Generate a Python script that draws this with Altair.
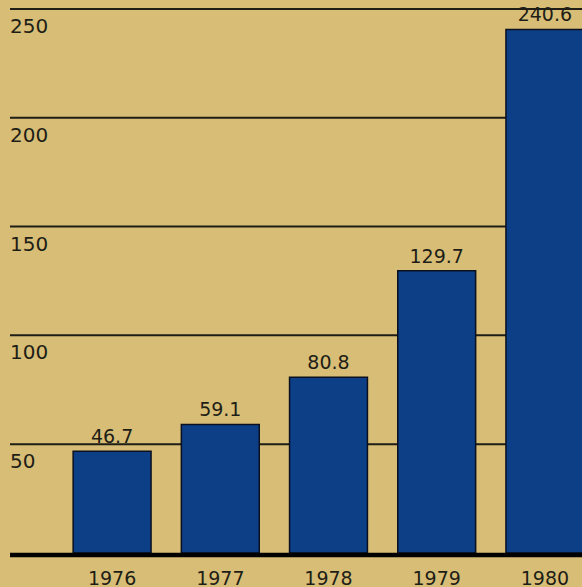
import altair as alt
import pandas as pd

# Annual values, 1976-1980
years = ["1976", "1977", "1978", "1979", "1980"]
values = [46.7, 59.1, 80.8, 129.7, 240.6]
value_labels = ["46.7", "59.1", "80.8", "129.7", "240.6"]

# Horizontal reference lines and their labels
grid_values = [50, 100, 150, 200, 250]
grid_labels = ["50", "100", "150", "200", "250"]

BG = "#d7bd76"
BAR = "#0c3f86"
INK = "#1e1e16"
FONT = "DejaVu Sans"

bars_df = pd.DataFrame({"year": years, "value": values, "label": value_labels})
grid_df = pd.DataFrame({"v": grid_values, "label": grid_labels})
base_df = pd.DataFrame({"v": [0]})

yscale = alt.Scale(domain=[0, 254.1], nice=False, zero=True)
xscale = alt.Scale(range=[58, 599], paddingInner=0.28, paddingOuter=0.14)

grid = alt.Chart(grid_df).mark_rule(color=INK, strokeWidth=2).encode(
    y=alt.Y("v:Q", scale=yscale, axis=None),
    x=alt.value(10),
    x2=alt.value(582),
)

grid_text = alt.Chart(grid_df).mark_text(
    align="left", baseline="alphabetic", dy=24, fontSize=20, font=FONT, color=INK
).encode(
    y=alt.Y("v:Q", scale=yscale, axis=None),
    x=alt.value(10),
    text="label:N",
)

bars = alt.Chart(bars_df).mark_bar(
    color=BAR, stroke="#0a1020", strokeWidth=1.5
).encode(
    x=alt.X(
        "year:N",
        scale=xscale,
        sort=years,
        axis=alt.Axis(
            title=None,
            domain=False,
            ticks=False,
            tickSize=0,
            grid=False,
            labelAngle=0,
            labelFont=FONT,
            labelFontSize=19,
            labelColor=INK,
            labelBaseline="alphabetic",
            labelPadding=31,
        ),
    ),
    y=alt.Y("value:Q", scale=yscale, axis=None),
)

bar_text = alt.Chart(bars_df).mark_text(
    baseline="alphabetic", dy=-8, fontSize=19, font=FONT, color=INK
).encode(
    x=alt.X("year:N", scale=xscale, sort=years),
    y=alt.Y("value:Q", scale=yscale, axis=None),
    text="label:N",
)

baseline = alt.Chart(base_df).mark_rule(color="#000000", strokeWidth=4.5, yOffset=2).encode(
    y=alt.Y("v:Q", scale=yscale, axis=None),
    x=alt.value(10),
    x2=alt.value(582),
)

chart = (
    alt.layer(grid, grid_text, bars, bar_text, baseline)
    .properties(
        width=582,
        height=553,
        autosize="none",
        padding={"left": 0, "top": 0, "right": 0, "bottom": 34},
        background=BG,
    )
    .configure_view(stroke=None, fill=BG)
)

chart.save("out.html", embed_options={"renderer": "svg", "actions": False})
